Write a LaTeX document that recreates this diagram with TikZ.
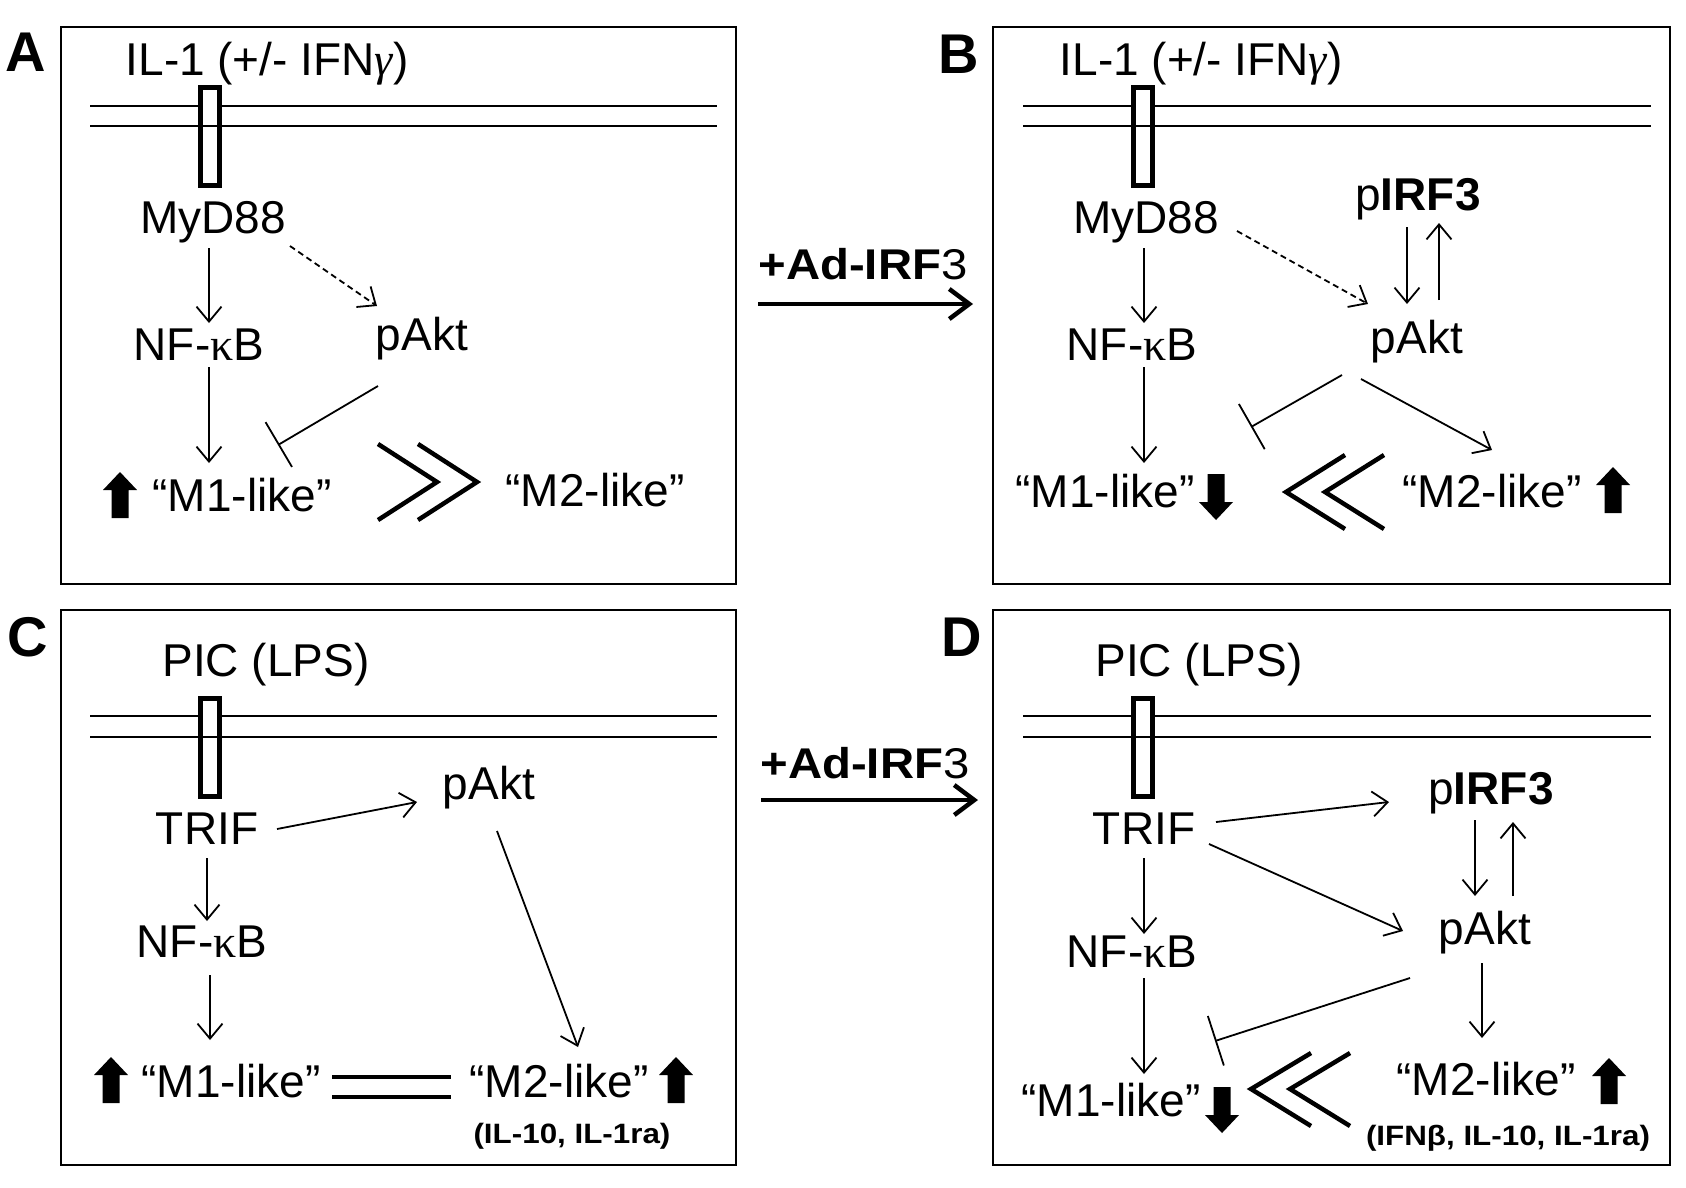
\documentclass[tikz,border=0pt]{standalone}
\usepackage{fontspec}
\usepackage{graphicx}
\setmainfont{Liberation Sans}
\newfontfamily\grkfont{Liberation Serif}
\usetikzlibrary{arrows.meta,calc}
\begin{document}
\begin{tikzpicture}[x=1pt,y=-1pt,
  every node/.style={inner sep=0pt,anchor=base},
  lbl/.style={font={\fontsize{46}{55}\selectfont}},
  panl/.style={font={\bfseries\fontsize{56}{60}\selectfont}},
  adlbl/.style={font={\fontsize{43}{50}\selectfont}},
  cyto/.style={font={\bfseries\fontsize{28}{32}\selectfont}},
  panel/.style={draw,line width=2.4pt,anchor=center,minimum width=#1},
  memb/.style={line width=2.4pt},
  recep/.style={draw,fill=white,line width=5pt,anchor=center,minimum width=19pt,minimum height=98pt},
  conn/.style={line width=1.8pt,-{Straight Barb[length=15pt,width=25pt]}},
  dconn/.style={conn,dash pattern=on 6pt off 4pt},
  inh/.style={line width=1.8pt,-{Bar[width=52pt]}},
  chev/.style={line width=4.5pt,miter limit=10},
  bigconn/.style={line width=4.5pt,-{Straight Barb[length=20pt,width=30pt]}},
  dbl/.style={line width=4.5pt},
  uparr/.pic={\fill (-8.5,23) -- (-8.5,-5) -- (-17,-5) -- (0,-23) -- (17,-5) -- (8.5,-5) -- (8.5,23) -- cycle;},
  dnarr/.pic={\fill (-8.5,-23) -- (-8.5,5) -- (-17,5) -- (0,23) -- (17,5) -- (8.5,5) -- (8.5,-23) -- cycle;}
]
\useasboundingbox (0,0) rectangle (1686,1187);
\fill[white] (0,0) rectangle (1686,1187);

% ---------------- Panel A ----------------
\node[panel=675pt,minimum height=557pt] (boxA) at (398.5,305.5) {};
\node[panl] (labA) at (26,71) {A};
\node[lbl] (ilA) at (267,75) {IL-1 (+/- IFN{\grkfont\itshape γ})};
\draw[memb] (90,106) -- (717,106);
\node[recep] (recA) at (210,136.5) {};
\draw[memb] (90,126) -- (717,126);
\node[lbl] (mydA) at (213,233) {MyD88};
\node[lbl] (nfA) at (199,360) {NF-{\grkfont κ}B};
\node[lbl] (pakA) at (422,350) {pAkt};
\node[lbl] (m1A) at (242,511) {“M1-like”};
\node[lbl] (m2A) at (595,506) {“M2-like”};
\pic at (120,495) {uparr};
\draw[chev] (378,444) -- (437,482) -- (378,520);
\draw[chev] (418,444) -- (477,482) -- (418,520);
\draw[conn] ($(mydA.base)+(-4,15)$) -- ($(nfA.base)+(10,-37)$);
\draw[dconn] ($(mydA.base)+(77,13)$) -- ($(pakA.base)+(-45,-44)$);
\draw[conn] ($(nfA.base)+(10,7)$) -- ($(m1A.base)+(-33,-48)$);
\draw[inh] ($(pakA.base)+(-44,36)$) -- ($(m1A.base)+(36,-66)$);

% ---------------- arrow A -> B ----------------
\node[adlbl] (adT) at (863,279) {\scalebox{1.1}[1]{\textbf{+Ad-IRF}3}};
\draw[bigconn] ($(adT.base)+(-105,25)$) -- ($(adT.base)+(110,25)$);

% ---------------- Panel B ----------------
\node[panel=677pt,minimum height=557pt] (boxB) at (1331.5,305.5) {};
\node[panl] (labB) at (959,73) {B};
\node[lbl] (ilB) at (1201,75) {IL-1 (+/- IFN{\grkfont\itshape γ})};
\draw[memb] (1023,106) -- (1651,106);
\node[recep] (recB) at (1143,136.5) {};
\draw[memb] (1023,126) -- (1651,126);
\node[lbl] (mydB) at (1146,233) {MyD88};
\node[lbl] (pirfB) at (1418,210) {p\textbf{IRF3}};
\node[lbl] (nfB) at (1132,360) {NF-{\grkfont κ}B};
\node[lbl] (pakB) at (1417,353) {pAkt};
\node[lbl] (m1B) at (1105,507) {“M1-like”};
\node[lbl] (m2B) at (1492,507) {“M2-like”};
\pic at (1216,497) {dnarr};
\pic at (1613,490) {uparr};
\draw[chev] (1345,455) -- (1286,492) -- (1345,529);
\draw[chev] (1384,455) -- (1325,492) -- (1384,529);
\draw[conn] ($(mydB.base)+(-2,15)$) -- ($(nfB.base)+(12,-37)$);
\draw[dconn] ($(mydB.base)+(91,-2)$) -- ($(pakB.base)+(-49,-49)$);
\draw[conn] ($(pirfB.base)+(-11,17)$) -- ($(pakB.base)+(-10,-49)$);
\draw[conn] ($(pakB.base)+(22,-53)$) -- ($(pirfB.base)+(21,13)$);
\draw[conn] ($(nfB.base)+(12,7)$) -- ($(m1B.base)+(39,-44)$);
\draw[inh] ($(pakB.base)+(-75,22)$) -- ($(m1B.base)+(146,-80)$);
\draw[conn] ($(pakB.base)+(-56,26)$) -- ($(m2B.base)+(0,-57)$);

% ---------------- Panel C ----------------
\node[panel=675pt,minimum height=555pt] (boxC) at (398.5,887.5) {};
\node[panl] (labC) at (28,656) {C};
\node[lbl] (picC) at (266,676) {PIC (LPS)};
\draw[memb] (90,716) -- (717,716);
\node[recep] (recC) at (210,747) {};
\draw[memb] (90,737) -- (717,737);
\node[lbl] (trifC) at (207,844) {TRIF};
\node[lbl] (pakC) at (489,799) {pAkt};
\node[lbl] (nfC) at (202,957) {NF-{\grkfont κ}B};
\node[lbl] (m1C) at (231,1097) {“M1-like”};
\node[lbl] (m2C) at (559,1097) {“M2-like”};
\node[cyto] (cytC) at (572,1143) {\scalebox{1.12}[1]{(IL-10, IL-1ra)}};
\pic at (111,1080) {uparr};
\pic at (676,1080) {uparr};
\draw[dbl] (332,1077) -- (451,1077);
\draw[dbl] (332,1097) -- (451,1097);
\draw[conn] ($(trifC.base)+(70,-15)$) -- ($(pakC.base)+(-72,3)$);
\draw[conn] ($(trifC.base)+(0,14)$) -- ($(nfC.base)+(5,-36)$);
\draw[conn] ($(nfC.base)+(8,18)$) -- ($(m1C.base)+(-21,-57)$);
\draw[conn] ($(pakC.base)+(8,32)$) -- ($(m2C.base)+(19,-50)$);

% ---------------- arrow C -> D ----------------
\node[adlbl] (adB) at (865,778) {\scalebox{1.1}[1]{\textbf{+Ad-IRF}3}};
\draw[bigconn] ($(adB.base)+(-104,22)$) -- ($(adB.base)+(113,22)$);

% ---------------- Panel D ----------------
\node[panel=677pt,minimum height=555pt] (boxD) at (1331.5,887.5) {};
\node[panl] (labD) at (962,656) {D};
\node[lbl] (picD) at (1199,676) {PIC (LPS)};
\draw[memb] (1023,716) -- (1651,716);
\node[recep] (recD) at (1143,747) {};
\draw[memb] (1023,737) -- (1651,737);
\node[lbl] (trifD) at (1144,844) {TRIF};
\node[lbl] (pirfD) at (1491,804) {p\textbf{IRF3}};
\node[lbl] (pakD) at (1485,944) {pAkt};
\node[lbl] (nfD) at (1132,967) {NF-{\grkfont κ}B};
\node[lbl] (m1D) at (1111,1116) {“M1-like”};
\node[lbl] (m2D) at (1486,1095) {“M2-like”};
\node[cyto] (cytD) at (1508,1145) {\scalebox{1.12}[1]{(IFNβ, IL-10, IL-1ra)}};
\pic at (1222,1110) {dnarr};
\pic at (1609,1081) {uparr};
\draw[chev] (1311,1053) -- (1251,1089) -- (1311,1126);
\draw[chev] (1350,1053) -- (1290,1089) -- (1350,1126);
\draw[conn] ($(trifD.base)+(72,-22)$) -- ($(pirfD.base)+(-102,-2)$);
\draw[conn] ($(trifD.base)+(65,0)$) -- ($(pakD.base)+(-82,-13)$);
\draw[conn] ($(trifD.base)+(0,14)$) -- ($(nfD.base)+(12,-33)$);
\draw[conn] ($(pirfD.base)+(-16,16)$) -- ($(pakD.base)+(-10,-48)$);
\draw[conn] ($(pakD.base)+(28,-48)$) -- ($(pirfD.base)+(22,18)$);
\draw[conn] ($(nfD.base)+(12,11)$) -- ($(m1D.base)+(33,-42)$);
\draw[inh] ($(pakD.base)+(-75,34)$) -- ($(m1D.base)+(104,-75)$);
\draw[conn] ($(pakD.base)+(-3,19)$) -- ($(m2D.base)+(-4,-57)$);
\end{tikzpicture}
\end{document}
